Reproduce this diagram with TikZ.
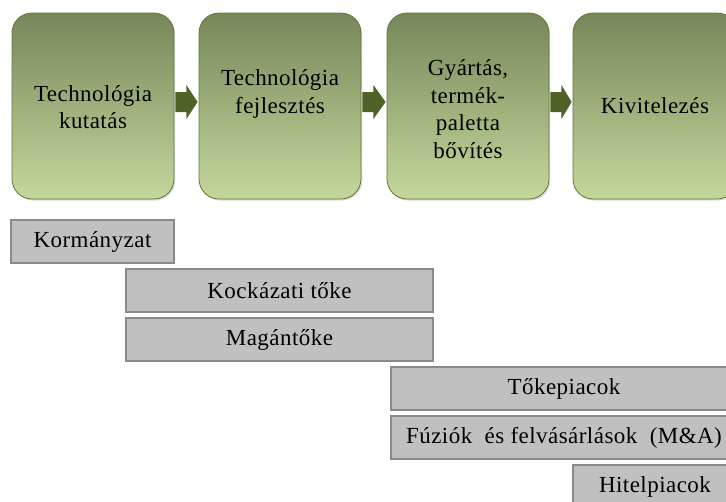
\documentclass[tikz,border=0pt]{standalone}
\usepackage{fontspec}
\setmainfont[LetterSpace=2]{Liberation Serif}
\usetikzlibrary{calc,shadows}

\definecolor{stagetop}{HTML}{76875A}
\definecolor{stagebot}{HTML}{C4D89C}
\definecolor{stageedge}{HTML}{5F7A34}
\definecolor{flowcol}{HTML}{4F6228}
\definecolor{fundfill}{HTML}{C0C0C0}
\definecolor{fundedge}{HTML}{8A8A8A}

\tikzset{
  stage/.style={rectangle, rounded corners=20pt, draw=stageedge, line width=0.8pt,
    top color=stagetop, bottom color=stagebot,
    minimum width=162pt, minimum height=186pt, inner sep=0pt,
    drop shadow={opacity=0.3, shadow xshift=1.2pt, shadow yshift=-1.5pt}},
  stagetext/.style={align=center, font=\fontsize{23}{27.5}\selectfont, inner sep=0pt},
  fund/.style={rectangle, draw=fundedge, line width=1.1pt, fill=fundfill,
    minimum height=43pt, inner sep=0pt, font=\fontsize{23}{26}\selectfont},
  flowarrow/.style={fill=flowcol}
}

\begin{document}
\begin{tikzpicture}[x=1pt, y=-1pt]
  \clip (0,0) rectangle (726,501);

  % development stages
  \node[stage] (s1) at (93,106) {};
  \node[stage] (s2) at (280,106) {};
  \node[stage] (s3) at (468,106) {};
  \node[stage, minimum width=164pt] (s4) at (655,106) {};

  \node[stagetext] (t1) at ([yshift=-1pt]s1.center) {Technológia\\kutatás};
  \node[stagetext] (t2) at ([yshift=12pt]s2.center) {Technológia\\fejlesztés};
  \node[stagetext] (t3) at ([yshift=-3pt]s3.center) {Gyártás,\\termék-\\paletta\\bővítés};
  \node[stagetext] (t4) at (s4.center) {Kivitelezés};

  % block arrows between the stages
  \foreach \a/\b in {s1/s2, s2/s3, s3/s4} {
    \fill[flowarrow] ($(\a.east)+(1,-14)$) -- ($(\a.east)+(12,-14)$)
      -- ($(\a.east)+(12,-21)$) -- ($(\b.west)+(-1,-4)$)
      -- ($(\a.east)+(12,13)$) -- ($(\a.east)+(12,6)$)
      -- ($(\a.east)+(1,6)$) -- cycle;
  }

  % financing sources
  \node[fund, minimum width=163pt] (k1) at (92.5,241.5) {Kormányzat};
  \node[fund, minimum width=307pt] (k2) at (279.5,290.5) {Kockázati\ tőke};
  \node[fund, minimum width=307pt] (k3) at (279.5,339.5) {Magántőke};
  \node[fund, minimum width=346pt] (k4) at (564,388.5) {Tőkepiacok};
  \node[fund, minimum width=346pt] (k5) at (564,437.5) {Fúziók\ \ és felvásárlások\ \ (M\&A)};
  \node[fund, minimum width=164pt] (k6) at (655,486.5) {Hitelpiacok};
\end{tikzpicture}
\end{document}
